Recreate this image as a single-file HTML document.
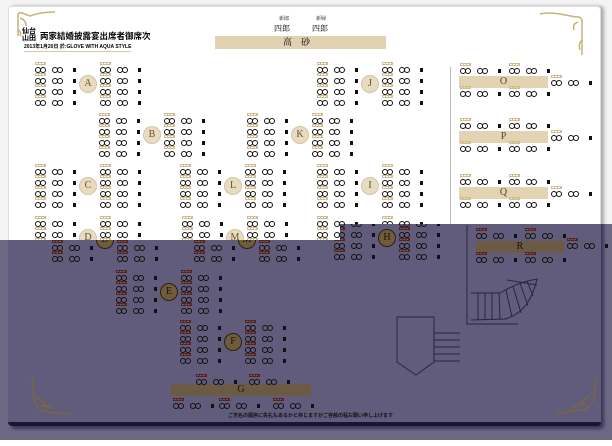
<!DOCTYPE html>
<html><head><meta charset="utf-8">
<style>
body{margin:0;width:612px;height:440px;overflow:hidden;font-family:"Liberation Serif","Noto Serif CJK SC",serif;}
#root{position:relative;width:612px;height:440px;background:#f3f3f3;}
.layer{position:absolute;left:0;top:0;width:612px;height:440px;}
#top{clip-path:polygon(0 0,612px 0,612px 224px,340px 224px,340px 240px,0 240px);}
#bot{clip-path:polygon(0 240px,340px 240px,340px 224px,612px 224px,612px 440px,0 440px);background:#6d6985;}
.a{position:absolute;box-sizing:border-box;}
.ring{width:6px;height:6px;border:1.4px solid #111;border-radius:50%;}
.sq{width:3px;height:4px;background:#111;}
.t{position:absolute;white-space:nowrap;line-height:1;}
</style></head><body>
<div id="root">
 <div id="top" class="layer">
  <div class="a" style="left:8px;top:6px;width:593px;height:440px;background:#fff;border:1px solid #ddd;border-radius:4px;box-shadow:3px 0 3px #aaa;"></div>
  <div class="t" style="left:22px;top:28px;font-size:7px;font-weight:bold;font-family:'Liberation Sans','Noto Sans CJK JP',sans-serif;line-height:7px;">仙台<br>山田</div>
  <div class="t" style="left:40px;top:32px;font-size:8.5px;font-weight:bold;font-family:'Liberation Sans','Noto Sans CJK JP',sans-serif;">両家結婚披露宴出席者御席次</div>
  <div class="t" style="left:24px;top:45px;font-size:5px;font-weight:bold;font-family:'Liberation Sans','Noto Sans CJK JP',sans-serif;border-bottom:1px solid #d8c8a0;padding-bottom:1px;">2013年1月20日 於:GLOVE WITH AQUA STYLE</div>
  <div class="t" style="left:279px;top:17px;font-size:5px;">新郎</div>
  <div class="t" style="left:316px;top:17px;font-size:5px;">新婦</div>
  <div class="t" style="left:274px;top:25px;font-size:8px;">四郎</div>
  <div class="t" style="left:312px;top:25px;font-size:8px;">四郎</div>
  <div class="a" style="left:215px;top:36px;width:171px;height:13px;background:#e0d2b0;"></div>
  <div class="t" style="left:283px;top:38px;font-size:9px;">高　砂</div>
  <div class="a" style="left:450px;top:67px;width:1px;height:160px;background:#bbb;"></div>
  <svg class="a" style="left:0;top:0" width="612" height="240">
   <g fill="none" stroke="#c8b27c" stroke-width="1.5">
    <path d="M18 36 L18 14 Q19 12 22 13 L30 16 Q40 12 55 12 M20 18 Q26 20 26 26 M18 30 Q22 32 20 36"/>
    <path d="M582 55 L582 20 Q580 16 576 17 L560 14 Q548 12 540 14 M578 22 Q572 24 574 30 M582 40 Q578 44 580 50"/>
   </g>
  </svg>
 </div>
 <div id="bot" class="layer">
  <div class="a" style="left:8px;top:0;width:593px;height:426px;background:#615c7b;border-bottom:4px solid #1c1434;border-radius:4px;box-shadow:3px 3px 3px #3c3658;"></div>
  <svg class="a" style="left:0;top:0" width="612" height="440">
   <g fill="none" stroke="#2a2440" stroke-width="1">
    <path d="M467 225 L467 324 L518 324"/>
    <path d="M471 293 L500 293 Q520 281 538 279"/>
    <path d="M471 320 L505 319 Q530 312 537 279"/>
    <path d="M478 293 L478 320 M485 293 L485 320 M492 293 L492 320 M499 293 L500 319 M506 290 L512 317 M513 286 L521 313 M520 283 L528 306 M527 281 L533 296 M507 280 L537 285"/>
    <path d="M397 317 L434 317 L434 362 L416 375 L397 362 Z"/>
    <path d="M434 333 L460 333 M434 340 L460 340 M434 347 L460 347 M434 354 L460 354 M434 361 L460 361"/>
   </g>
   <g fill="none" stroke="#7a6640" stroke-width="1.5">
    <path d="M32 378 L34 400 Q38 412 48 412 L70 414 M36 398 Q44 400 46 408 M40 406 Q50 404 54 410"/>
    <path d="M596 376 L594 398 Q590 410 580 410 L556 414 M590 396 Q582 398 582 406 M586 404 Q576 402 572 410"/>
   </g>
  </svg>
  <div class="t" style="left:228px;top:414px;font-size:5px;color:#111;font-family:'Liberation Sans','Noto Sans CJK JP',sans-serif;font-weight:bold;">ご芳名の順序に失礼もあるかと存じますがご容赦の程お願い申し上げます</div>
 </div>
</div>
<script>
const top_=document.getElementById('top'),bot=document.getElementById('bot');
function add(p,css,cls,txt){const d=document.createElement('div');d.className=cls||'a';d.style.cssText=css;if(txt)d.textContent=txt;p.appendChild(d);return d;}
function group(p,x,y,dark){
 const lc=dark?'#5a2418':'#d2bc90';
 add(p,`left:${x}px;top:${y-8}px;width:11px;height:3px;border:1px solid ${lc};background:repeating-linear-gradient(90deg,transparent 0 2px,${lc} 2px 3px);`);
 add(p,`left:${x}px;top:${y-3}px`,'a ring');add(p,`left:${x+5}px;top:${y-3}px`,'a ring');
 add(p,`left:${x+17}px;top:${y-3}px`,'a ring');add(p,`left:${x+22}px;top:${y-3}px`,'a ring');
 add(p,`left:${x+38}px;top:${y-2}px`,'a sq');
}
function badge(p,cx,cy,L,dark){
 const d=add(p,`left:${cx-9}px;top:${cy-9}px;width:18px;height:18px;border-radius:50%;background:${dark?'#6e5c3c':'#e8dcc0'};border:1px solid ${dark?'#2a2018':'#d4c4a0'};font-size:10px;color:${dark?'#1a1208':'#6a5030'};text-align:center;line-height:16px;`);
 d.textContent=L;
}
function table(p,cx,cy,L,dark){
 [-14,-3,8,19].forEach(r=>{group(p,cx-53,cy+r,dark);group(p,cx+12,cy+r,dark);});
 badge(p,cx,cy,L,dark);
}
function bar(p,x,y,w,L,dark){
 const d=add(p,`left:${x}px;top:${y}px;width:${w}px;height:12px;background:${dark?'#6b5a44':'#e2d4b2'};font-size:10px;text-align:center;line-height:12px;color:${dark?'#1a1208':'#5a4020'};`);d.textContent=L;
}
[[88,84,'A'],[152,135,'B'],[88,186,'C'],[88,238,'D'],[370,84,'J'],[300,135,'K'],[233,186,'L'],[370,186,'I'],[235,238,'M'],[370,238,'H']].forEach(t=>table(top_,t[0],t[1],t[2],false));
[[76,'O'],[131,'P'],[187,'Q']].forEach(b=>{const y=b[0];bar(top_,459,y,89,b[1],false);
 group(top_,460,y-5,false);group(top_,509,y-5,false);group(top_,460,y+18,false);group(top_,509,y+18,false);group(top_,551,y+7,false);});
[[105,240,'D'],[247,240,'M'],[387,238,'H'],[169,292,'E'],[233,342,'F']].forEach(t=>table(bot,t[0],t[1],t[2],true));
bar(bot,171,384,140,'G',true);
group(bot,196,382,true);group(bot,249,382,true);
[173,219,273].forEach(x=>group(bot,x,406,true));
bar(bot,476,241,88,'R',true);
group(bot,476,236,true);group(bot,525,236,true);group(bot,476,260,true);group(bot,525,260,true);group(bot,567,246,true);
</script>
</body></html>
